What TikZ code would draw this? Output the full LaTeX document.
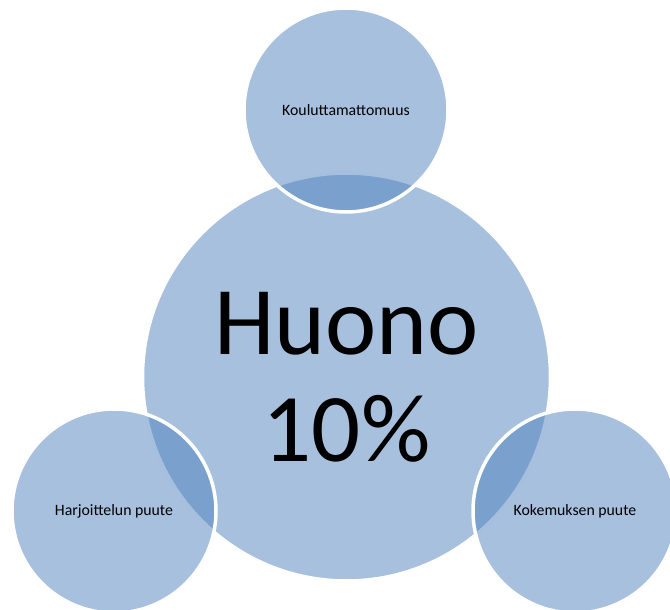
\documentclass[tikz,border=0pt]{standalone}
\usepackage{fontspec}
\setmainfont{Carlito}
\definecolor{AccentBlue}{RGB}{79,129,189}
\tikzset{%
  bubble/.style={%
    circle, fill=AccentBlue, fill opacity=0.5, text opacity=1,
    draw=white, line width=3.5pt, minimum size=204pt, inner sep=0pt,
    font=\fontsize{15.8}{18}\selectfont
  },
  core/.style={%
    bubble, minimum size=408pt, align=center,
    font=\fontsize{97}{107}\selectfont
  },
}

\begin{document}
\begin{tikzpicture}[x=1pt, y=-1pt]
    \useasboundingbox (0,0) rectangle (670,610);
        \node (Core)[core] at (346.5,377) {Huono\\10\%};
        \node (Kouluttamattomuus)[bubble] at (346,110) {Kouluttamattomuus};
        \node (HarjoittelunPuute)[bubble] at (114,511) {Harjoittelun puute};
        \node (KokemuksenPuute)[bubble] at (575,511) {Kokemuksen puute};
    \end{tikzpicture}
\end{document}
